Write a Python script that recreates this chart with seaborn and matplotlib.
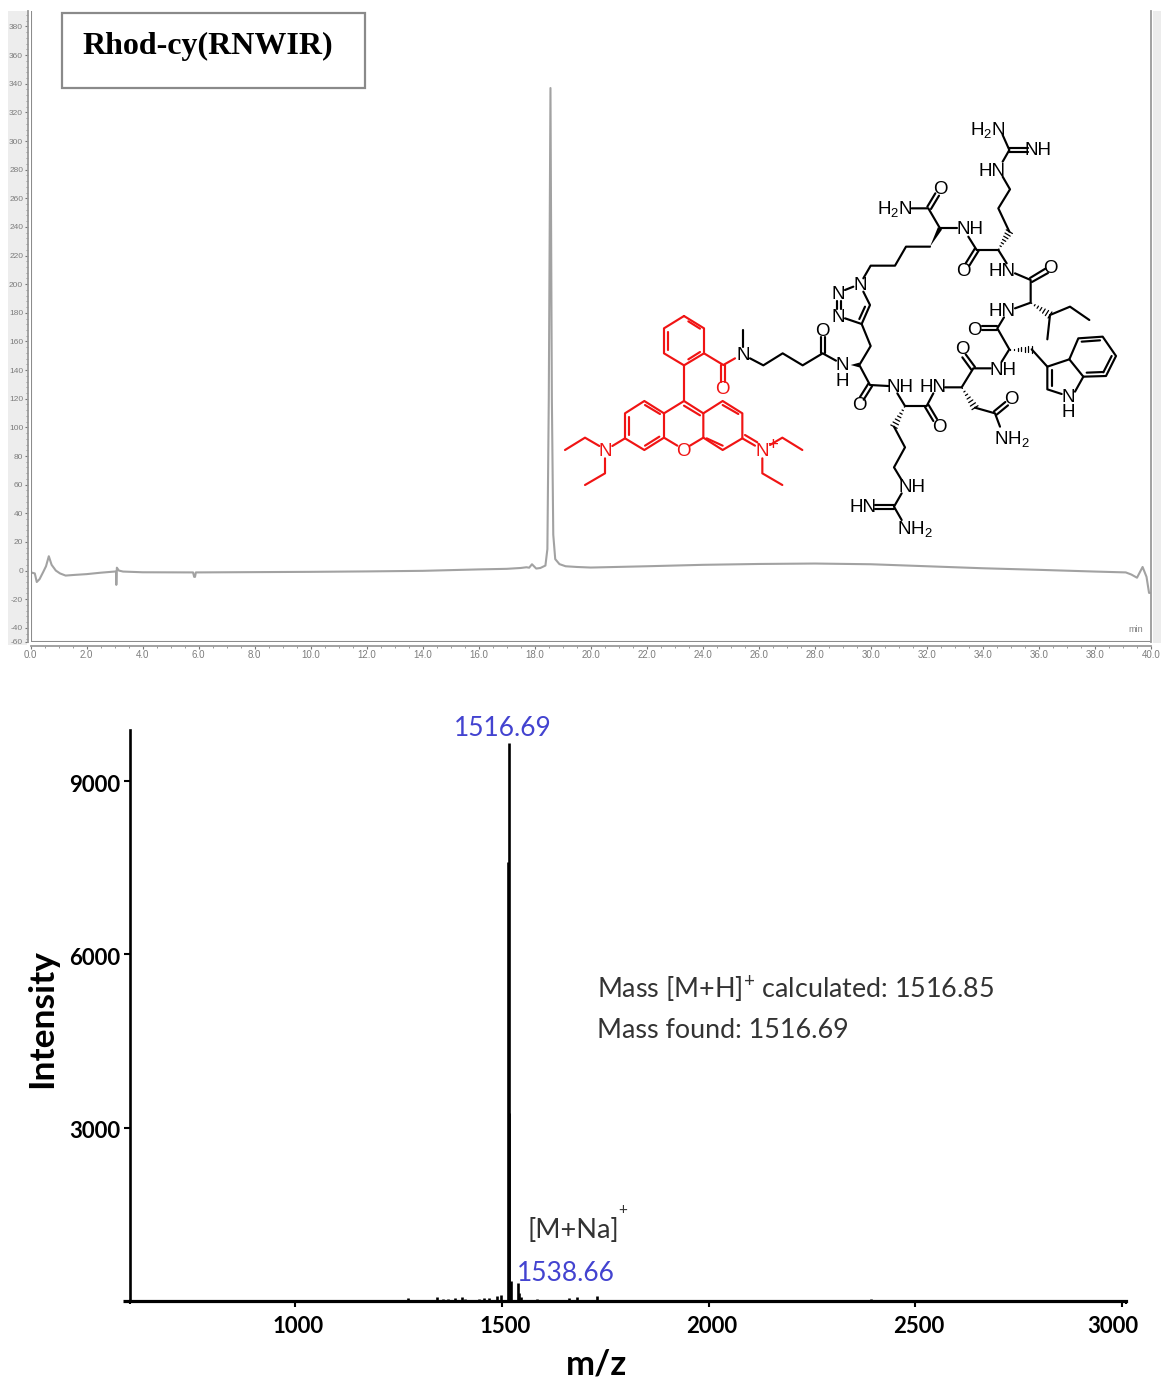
"""HPLC trace, structure and mass spectrum for Rhod-cy(RNWIR)."""

import matplotlib.pyplot as plt
import numpy as np
import seaborn as sns
from matplotlib.patches import Polygon, Rectangle
from matplotlib.transforms import ScaledTranslation

W, H = 1161, 1384

# HPLC trace (minutes, signal)
hplc_time = [
    0.0, 0.05, 0.15, 0.22, 0.32, 0.45, 0.55, 0.65, 0.75, 0.9, 1.05, 1.25, 1.6, 2.0, 2.5, 3.0,
    3.05, 3.06, 3.08, 3.15, 3.3, 4.0, 5.8, 5.84, 5.87, 5.9, 8.0, 10.0, 12.0, 14.0, 16.0, 17.0,
    17.5, 17.7, 17.8, 17.9, 18.05, 18.2, 18.38, 18.45, 18.5, 18.56, 18.61, 18.66, 18.73, 18.88,
    19.1, 19.5, 20.0, 22.0, 24.0, 26.0, 28.0, 30.0, 32.0, 34.0, 36.0, 38.0, 39.1, 39.3, 39.5,
    39.7, 39.84, 39.93, 40.0,
]
hplc_signal = [
    -1.0, -1.5, -2.0, -8.0, -6.0, -1.0, 3.0, 10.0, 4.0, 0.0, -2.0, -3.5, -3.0, -2.5, -1.5, -0.7,
    -0.7, -10.0, 2.0, 0.0, -0.7, -1.2, -1.3, -4.4, -4.4, -1.3, -1.1, -0.9, -0.6, -0.2, 0.8, 1.2,
    1.8, 2.3, 2.0, 4.4, 1.4, 1.8, 3.5, 15.0, 120.0, 337.0, 120.0, 25.0, 8.0, 4.5,
    3.0, 2.5, 2.1, 3.0, 4.0, 4.6, 4.9, 4.4, 3.0, 1.6, 0.5, -0.7, -1.3, -2.8, -5.0,
    2.5, -4.4, -15.6, -15.6,
]

# Mass spectrum sticks (m/z, intensity)
ms_mz = [
    1273, 1344, 1358, 1370, 1387, 1403, 1410, 1445, 1458, 1469, 1488, 1498,
    1514.5, 1516.69, 1518.0, 1522.0, 1538.66, 1541, 1546, 1585, 1663, 1682, 1731, 2393,
]
ms_intensity = [
    50, 70, 40, 40, 50, 70, 40, 40, 50, 60, 90, 100,
    7600, 9670, 3250, 350, 310, 130, 70, 40, 50, 70, 80, 30,
]
peak_labels = [1516.69, 1538.66]
peak_heights = [9670, 310]

hplc_xticks = [0.0, 2.0, 4.0, 6.0, 8.0, 10.0, 12.0, 14.0, 16.0, 18.0, 20.0,
               22.0, 24.0, 26.0, 28.0, 30.0, 32.0, 34.0, 36.0, 38.0, 40.0]
hplc_yticks = [-40, -20, 0, 20, 40, 60, 80, 100, 120, 140, 160, 180, 200, 220,
               240, 260, 280, 300, 320, 340, 360, 380]
ms_xticks = [1000, 1500, 2000, 2500, 3000]
ms_yticks = [3000, 6000, 9000]
ms_xlabel_shift = [3, 3, 3, 3, -9]

GREY = "#7d7d7d"
RED = "#f01414"
BLUE = "#4343d0"

sns.set_theme(style="ticks")
plt.rcParams["font.family"] = ["Lato", "DejaVu Sans"]
plt.rcParams["mathtext.default"] = "regular"


def add_axes_px(fig, left, top, right, bottom):
    """Add an axes given its edges in picture pixels."""
    return fig.add_axes([left / W, 1 - bottom / H, (right - left) / W, (bottom - top) / H])


fig = plt.figure(figsize=(W / 100, H / 100), dpi=100, facecolor="white")

# ---- HPLC panel
ax1 = add_axes_px(fig, 30.6, 11, 1151, 642)
ax1.set_facecolor("none")
sns.lineplot(x=hplc_time, y=hplc_signal, color="#a2a2a2", linewidth=1.5, estimator=None,
             sort=False, ax=ax1)
ax1.set_xlim(0, 40)
ax1.set_ylim(-49.9, 390.8)
sns.despine(ax=ax1, top=True, right=False, offset={"left": 2.2, "bottom": 2.9})
ax1.spines["right"].set_position(("outward", 0))
for side in ["left", "bottom", "right"]:
    ax1.spines[side].set_color("#9a9a9a")
    ax1.spines[side].set_linewidth(1.3)
ax1.axvline(0, color="#8c8c8c", lw=1.5)
ax1.axhline(-49.9, color="#8c8c8c", lw=1.5)
ax1.set_xticks(hplc_xticks, [f"{t:.1f}" for t in hplc_xticks], fontsize=7, color=GREY,
               family="Liberation Sans")
ax1.set_xticks(np.arange(0, 40.5, 0.5), minor=True)
ax1.set_yticks(hplc_yticks + [-49.9], [str(v) for v in hplc_yticks] + ["-60"], fontsize=6,
               color=GREY, family="Liberation Sans")
ax1.set_yticks(np.arange(-48, 390, 4), minor=True)
ax1.tick_params(axis="both", which="major", length=2.4, width=0.8, color="#777777", pad=0.8)
ax1.tick_params(axis="both", which="minor", length=1.3, width=0.6, color="#888888")
ax1.text(0.9925, 0.012, "min", transform=ax1.transAxes, ha="right", va="bottom", fontsize=6.5,
         color=GREY, family="Liberation Sans")

# ---- mass spectrum panel
ax2 = add_axes_px(fig, 129.6, 730, 1125.5, 1301)
ax2.set_facecolor("none")
ax2.vlines(ms_mz, 0, ms_intensity, color="black", linewidth=1.9)
ax2.set_xlim(600, 3008)
ax2.set_ylim(0, 9887)
sns.despine(ax=ax2)
ax2.spines["left"].set_linewidth(1.9)
ax2.spines["bottom"].set_linewidth(2.3)
ax2.spines["left"].set_color("black")
ax2.spines["bottom"].set_color("black")
ax2.hlines(0, 583, 600, color="black", linewidth=2.3, clip_on=False)
ax2.set_xticks(ms_xticks, [str(v) for v in ms_xticks], fontsize=16, fontweight="bold", color="black")
ax2.set_yticks(ms_yticks, [str(v) for v in ms_yticks], fontsize=16, fontweight="bold", color="black")
ax2.set_xticks([600, 3008], minor=True)
ax2.tick_params(axis="x", which="major", length=4, width=1.5, color="black", pad=6.5)
ax2.tick_params(axis="x", which="minor", length=2.5, width=1.5, color="black")
ax2.tick_params(axis="y", which="major", length=4.5, width=1.5, color="black", pad=2.5)
for label, dx in zip(ax2.get_xticklabels(), ms_xlabel_shift):
    label.set_transform(label.get_transform() + ScaledTranslation(dx / 100, 0, fig.dpi_scale_trans))
for label in ax2.get_yticklabels():
    label.set_transform(label.get_transform() + ScaledTranslation(0, -2 / 100, fig.dpi_scale_trans))
ax2.set_xlabel("m/z", fontsize=25, fontweight="bold", color="black")
ax2.xaxis.set_label_coords((597 - 129.6) / (1125.5 - 129.6), -(1365 - 1301) / 571, transform=ax2.transAxes)
ax2.xaxis.label.set_verticalalignment("center")
ax2.set_ylabel("Intensity", fontsize=25.5, fontweight="bold", color="black")
ax2.yaxis.set_label_coords(-(129.6 - 42) / (1125.5 - 129.6), (1301 - 1019) / 571, transform=ax2.transAxes)
ax2.yaxis.label.set_verticalalignment("center")
ax2.annotate(f"{peak_labels[0]:.2f}", xy=(peak_labels[0], peak_heights[0]), xytext=(-6, 14),
             textcoords="offset pixels", ha="center", va="center", fontsize=19, color=BLUE)
ax2.annotate(f"{peak_labels[1]:.2f}", xy=(peak_labels[1], peak_heights[1]), xytext=(-1, 10),
             textcoords="offset pixels", ha="left", va="center", fontsize=19, color=BLUE)

# ---- overlay in picture pixels: side strips, title box, notes, structure
over = fig.add_axes([0, 0, 1, 1], zorder=-1)
over.set_xlim(0, W)
over.set_ylim(H, 0)
over.axis("off")
over.add_patch(Rectangle((8, 11), 19, 634, color="#ededed", lw=0))
over.add_patch(Rectangle((1152.5, 11), 8.5, 632, color="#ececec", lw=0))

top = fig.add_axes([0, 0, 1, 1], zorder=5)
top.set_xlim(0, W)
top.set_ylim(H, 0)
top.axis("off")
top.patch.set_alpha(0)

top.add_patch(Rectangle((61.5, 12.5), 303, 75, facecolor="white", edgecolor="#8a8a8a", lw=1.6))
top.text(82, 46, "Rhod-cy(RNWIR)", fontsize=23, fontweight="bold", color="black", va="center",
         family="Liberation Serif")

top.text(597, 990, "Mass [M+H]$^{+}$ calculated: 1516.85", fontsize=19.4, color="#333333", va="center")
top.text(597, 1030.5, "Mass found: 1516.69", fontsize=19.4, color="#333333", va="center")
top.text(528, 1230, "[M+Na]", fontsize=19.5, color="#333333", va="center")
top.text(618, 1210, "+", fontsize=11, color="#333333", va="center")


def draw_bonds(paths, ox, oy, color):
    """Draw bond polylines given in 3x crop coordinates."""
    for path in paths:
        xs = [ox + p[0] / 3 for p in path]
        ys = [oy + p[1] / 3 for p in path]
        top.plot(xs, ys, color=color, lw=1.55, solid_capstyle="round", solid_joinstyle="round")


def draw_atoms(atoms, ox, oy, color):
    for x, y, label in atoms:
        top.text(ox + x / 3, oy + y / 3 + 1, label, ha="center", va="center", fontsize=13.5, color=color,
                 family="Liberation Sans")


def draw_hash(p0, p1, ox, oy, n=7):
    """Hashed stereo bond, narrow at p0."""
    a = np.array([ox + p0[0] / 3, oy + p0[1] / 3])
    b = np.array([ox + p1[0] / 3, oy + p1[1] / 3])
    d = b - a
    perp = np.array([-d[1], d[0]]) / np.hypot(*d)
    for t in np.linspace(0.05, 1, n):
        c = a + d * t
        half = 3.6 * t
        top.plot([c[0] - perp[0] * half, c[0] + perp[0] * half],
                 [c[1] - perp[1] * half, c[1] + perp[1] * half], color="black", lw=0.9)


def draw_wedge(p0, p1, ox, oy):
    """Solid stereo bond, narrow at p0."""
    a = np.array([ox + p0[0] / 3, oy + p0[1] / 3])
    b = np.array([ox + p1[0] / 3, oy + p1[1] / 3])
    d = b - a
    perp = np.array([-d[1], d[0]]) / np.hypot(*d)
    top.add_patch(Polygon([a, b + perp * 2.4, b - perp * 2.4], color="black", lw=0))


# rhodamine part, crop at (560, 110)
red_bonds = [
    [(372, 618), (432, 655), (432, 730), (372, 766), (312, 730), (312, 655), (372, 618)],
    [(325, 665), (325, 720)], [(385, 634), (420, 656)], [(420, 726), (385, 748)],
    [(372, 766), (372, 873)],
    [(432, 730), (490, 765), (525, 745)],
    [(483, 765), (483, 815)], [(496, 765), (496, 815)],
    [(372, 873), (312, 910), (312, 983), (352, 1007)],
    [(372, 873), (430, 910), (430, 983), (390, 1007)],
    [(312, 910), (253, 873), (195, 910), (195, 985), (253, 1020), (312, 983)],
    [(430, 910), (488, 873), (547, 910), (547, 985), (488, 1020), (430, 983)],
    [(372, 887), (420, 916)], [(300, 912), (255, 885)], [(207, 920), (207, 975)],
    [(255, 1007), (298, 980)], [(488, 885), (535, 912)], [(440, 985), (488, 1007)],
    [(195, 985), (157, 1008)],
    [(118, 1008), (75, 983), (15, 1020)],
    [(135, 1045), (135, 1090), (75, 1125)],
    [(547, 985), (585, 1007)], [(555, 975), (592, 997)],
    [(630, 1005), (667, 983), (727, 1020)],
    [(607, 1045), (607, 1090), (667, 1125)],
]
red_atoms = [(488, 835, "O"), (370, 1020, "O"), (135, 1022, "N"), (607, 1022, "N"), (637, 1003, "+")]
draw_bonds(red_bonds, 560, 110, RED)
draw_atoms(red_atoms, 560, 110, RED)

link_bonds = [
    [(549, 660), (549, 710)],
    [(570, 745), (610, 766), (668, 730), (728, 766), (788, 730), (828, 752)],
    [(782, 730), (782, 680)], [(795, 730), (795, 680)],
]
link_atoms = [(549, 732, "N"), (788, 660, "O"), (848, 765, "N"), (848, 810, "H")]
draw_bonds(link_bonds, 560, 110, "black")
draw_atoms(link_atoms, 560, 110, "black")

# peptide ring, crop at (820, 110)
ring_bonds = [
    [(100, 530), (75, 540)], [(50, 572), (50, 597)], [(62, 572), (62, 597)],
    [(75, 625), (125, 642), (150, 585), (130, 545)], [(118, 627), (135, 590)],
    [(130, 505), (152, 467), (225, 467), (258, 410), (330, 410)],
    [(360, 355), (325, 295), (275, 295)], [(322, 290), (346, 250)], [(333, 297), (357, 257)],
    [(360, 355), (412, 355)], [(445, 380), (470, 420), (535, 420)],
    [(465, 415), (437, 460)], [(476, 422), (448, 467)],
    [(568, 365), (535, 295), (570, 238), (548, 200)],
    [(548, 155), (568, 120), (548, 75)], [(568, 113), (625, 113)], [(568, 125), (625, 125)],
    [(535, 420), (560, 460)], [(585, 490), (632, 510), (632, 578), (585, 595)],
    [(630, 504), (676, 476)], [(636, 516), (684, 489)],
    [(690, 615), (750, 590), (808, 630)], [(690, 615), (682, 688)],
    [(552, 622), (532, 655), (568, 718), (545, 755)],
    [(532, 648), (485, 648)], [(532, 661), (485, 661)],
    [(635, 718), (682, 770), (682, 838), (725, 852)], [(765, 845), (790, 800), (748, 748), (682, 770)],
    [(695, 780), (695, 828)],
    [(748, 748), (775, 685), (848, 680), (888, 738), (858, 798), (790, 800)],
    [(785, 695), (840, 691)], [(875, 738), (850, 787)], [(800, 788), (850, 786)],
    [(512, 775), (460, 775), (425, 832), (375, 832)],
    [(465, 771), (437, 733)], [(454, 779), (427, 742)],
    [(465, 893), (525, 910), (540, 950)], [(522, 904), (556, 876)], [(530, 914), (564, 886)],
    [(340, 850), (320, 888), (255, 888), (232, 850)],
    [(315, 891), (340, 933)], [(326, 885), (351, 927)],
    [(205, 828), (150, 825), (118, 765), (152, 708), (125, 642)],
    [(145, 821), (120, 861)], [(156, 829), (131, 869)],
    [(222, 950), (255, 1012), (222, 1072), (245, 1110)],
    [(245, 1150), (222, 1190), (245, 1230)], [(165, 1185), (222, 1185)], [(165, 1197), (222, 1197)],
]
ring_atoms = [
    (120, 525, "N"), (55, 550, "N"), (55, 620, "N"),
    (360, 235, "O"), (225, 295, "H$_2$N"), (450, 357, "NH"), (430, 480, "O"),
    (515, 180, "HN"), (655, 118, "NH"), (503, 58, "H$_2$N"),
    (545, 482, "HN"), (690, 473, "O"), (545, 600, "HN"), (463, 658, "O"),
    (550, 778, "NH"), (428, 715, "O"), (340, 830, "HN"), (575, 865, "O"), (577, 985, "NH$_2$"),
    (357, 950, "O"), (240, 828, "NH"), (117, 885, "O"),
    (275, 1130, "NH"), (130, 1190, "HN"), (285, 1255, "NH$_2$"),
    (745, 860, "N"), (745, 905, "H"),
]
draw_bonds(ring_bonds, 820, 110, "black")
draw_atoms(ring_atoms, 820, 110, "black")

draw_wedge((330, 410), (360, 355), 820, 110)
draw_wedge((92, 765), (118, 765), 820, 110)
draw_hash((535, 420), (568, 365), 820, 110)
draw_hash((632, 578), (690, 615), 820, 110)
draw_hash((568, 718), (635, 718), 820, 110)
draw_hash((425, 832), (465, 893), 820, 110)
draw_hash((255, 888), (222, 950), 820, 110)

fig.savefig("out.png", dpi=100)
plt.close(fig)
